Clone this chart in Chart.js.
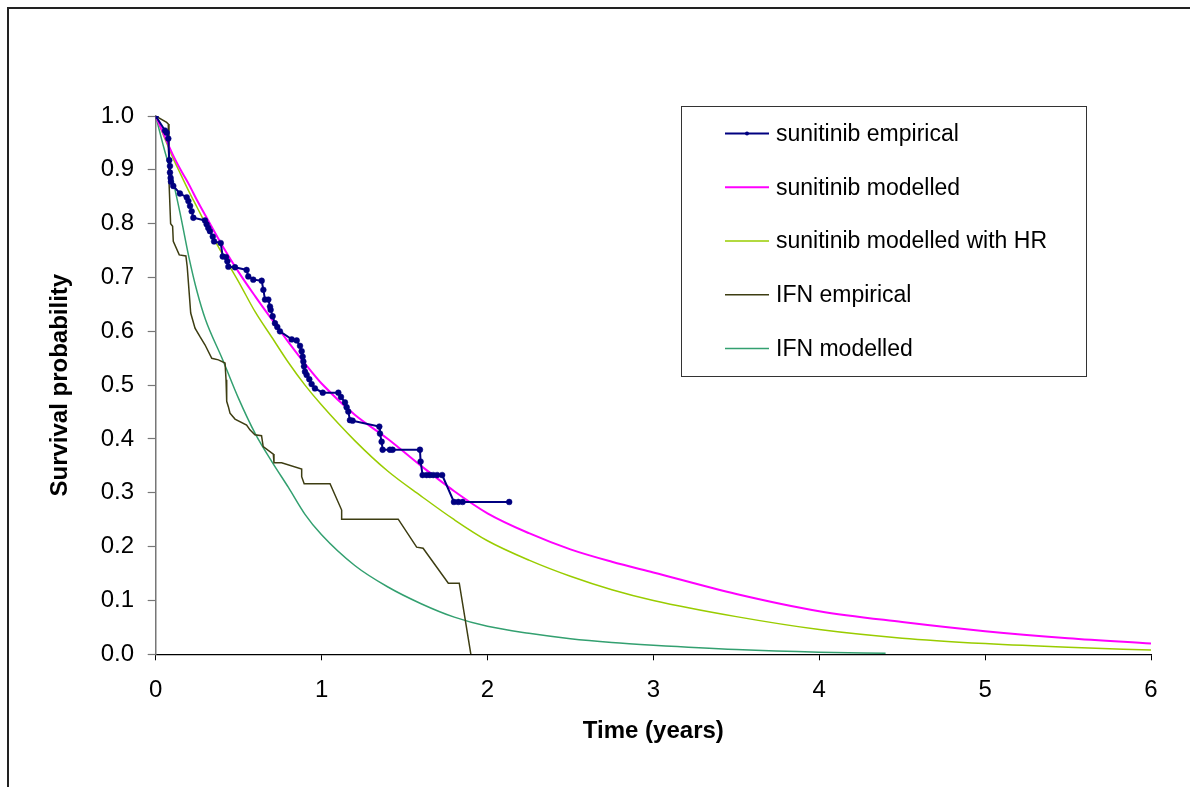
<!DOCTYPE html>
<html><head><meta charset="utf-8">
<script src="https://cdn.jsdelivr.net/npm/chart.js@4.4.1/dist/chart.umd.min.js"></script>
<style>
html,body{margin:0;padding:0;background:#fff;overflow:hidden;width:1190px;height:787px;}
#frame{position:absolute;left:7px;top:7px;width:1300px;height:900px;border:2px solid #222;box-sizing:border-box;}
#c{position:absolute;left:0;top:0;}
</style></head><body>
<div id="frame"></div>
<canvas id="c" width="1190" height="787"></canvas>
<script>
// ---- data ----
const seriesNames = ['sunitinib empirical','sunitinib modelled','sunitinib modelled with HR','IFN empirical','IFN modelled'];

const sunEmpT = [0,0.056,0.066,0.076,0.082,0.086,0.086,0.090,0.092,0.106,0.146,0.187,0.197,0.207,0.217,0.227,0.297,0.307,0.317,0.327,0.344,0.352,0.392,0.404,0.424,0.432,0.438,0.478,0.548,0.558,0.588,0.639,0.649,0.659,0.679,0.689,0.693,0.705,0.719,0.733,0.749,0.820,0.850,0.870,0.880,0.886,0.890,0.894,0.900,0.910,0.926,0.940,0.960,1.007,1.101,1.117,1.141,1.151,1.161,1.171,1.187,1.348,1.352,1.362,1.368,1.412,1.428,1.593,1.597,1.609,1.633,1.653,1.673,1.697,1.727,1.798,1.824,1.850,2.131];
const sunEmpS = [1.0,0.973,0.969,0.958,0.918,0.907,0.895,0.885,0.878,0.870,0.856,0.849,0.842,0.833,0.823,0.811,0.806,0.799,0.792,0.786,0.776,0.767,0.764,0.739,0.738,0.730,0.720,0.719,0.714,0.702,0.696,0.694,0.677,0.659,0.659,0.646,0.640,0.628,0.615,0.608,0.600,0.585,0.583,0.573,0.563,0.553,0.544,0.535,0.525,0.519,0.511,0.502,0.494,0.486,0.486,0.478,0.468,0.459,0.451,0.435,0.434,0.423,0.410,0.395,0.380,0.380,0.380,0.380,0.358,0.333,0.333,0.333,0.333,0.333,0.333,0.283,0.283,0.283,0.283];

const modT    = [0,0.05,0.1,0.15,0.2,0.25,0.3,0.4,0.5,0.6,0.7,0.8,0.9,1.0,1.2,1.4,1.6,1.8,2.0,2.25,2.5,2.75,3.0,3.5,4.0,4.5,5.0,5.5,6.0];
const sunModS = [1.0,0.965,0.93,0.90,0.873,0.843,0.815,0.76,0.71,0.665,0.622,0.58,0.54,0.503,0.445,0.40,0.35,0.303,0.262,0.225,0.195,0.172,0.152,0.112,0.08,0.06,0.043,0.03,0.02];
const sunHrS  = [1.0,0.962,0.925,0.892,0.86,0.83,0.80,0.745,0.692,0.636,0.589,0.542,0.50,0.463,0.397,0.340,0.294,0.25,0.211,0.175,0.145,0.12,0.10,0.07,0.046,0.03,0.02,0.013,0.008];

const ifnEmpT = [0,0.066,0.076,0.080,0.090,0.102,0.106,0.142,0.182,0.190,0.202,0.211,0.223,0.237,0.267,0.297,0.338,0.378,0.418,0.424,0.428,0.438,0.448,0.478,0.548,0.568,0.598,0.638,0.648,0.709,0.713,0.759,0.880,0.880,0.895,1.051,1.121,1.121,1.462,1.573,1.612,1.764,1.830,1.900];
const ifnEmpS = [1.0,0.988,0.985,0.88,0.80,0.795,0.767,0.742,0.740,0.72,0.671,0.634,0.621,0.606,0.590,0.575,0.550,0.547,0.541,0.510,0.470,0.460,0.448,0.437,0.426,0.417,0.408,0.406,0.386,0.372,0.356,0.356,0.344,0.330,0.317,0.317,0.268,0.251,0.251,0.199,0.197,0.132,0.132,0.0];

const ifnModT = [0,0.05,0.1,0.15,0.2,0.25,0.3,0.4,0.5,0.6,0.7,0.8,0.9,1.0,1.2,1.4,1.6,1.8,2.0,2.25,2.5,2.75,3.0,3.5,4.0,4.4];
const ifnModS = [1.0,0.94,0.885,0.815,0.738,0.673,0.622,0.55,0.475,0.41,0.358,0.31,0.26,0.222,0.165,0.125,0.094,0.069,0.052,0.039,0.029,0.022,0.017,0.009,0.004,0.002];

const xTickValues = [0,1,2,3,4,5,6];
const yTickDecimals = 1;

// ---- build ----
const pts = (xs, ys) => xs.map((x, i) => ({x: x, y: ys[i]}));
const FF = '"Liberation Sans", Arial, sans-serif';

const legendPlugin = {
  id: 'boxLegend',
  afterDraw(chart) {
    const ctx = chart.ctx;
    ctx.save();
    ctx.strokeStyle = '#333'; ctx.lineWidth = 1;
    ctx.strokeRect(681.5, 106.5, 405, 270);
    chart.data.datasets.forEach((ds, i) => {
      const y = 133.5 + i * 53.75;
      ctx.strokeStyle = ds.borderColor; ctx.lineWidth = ds.borderWidth;
      ctx.beginPath(); ctx.moveTo(725, y); ctx.lineTo(769, y); ctx.stroke();
      if (ds.pointRadius > 0) {
        ctx.fillStyle = ds.pointBackgroundColor;
        ctx.beginPath(); ctx.arc(747, y, 2, 0, Math.PI * 2); ctx.fill();
      }
      ctx.fillStyle = '#000';
      ctx.font = '23px ' + FF;
      ctx.textBaseline = 'middle';
      ctx.fillText(ds.label, 776, y + 1);
    });
    ctx.restore();
  }
};

new Chart(document.getElementById('c'), {
  type: 'line',
  data: {
    datasets: [
      {label: seriesNames[0], data: pts(sunEmpT, sunEmpS), borderColor: '#000080', borderWidth: 2,
       pointRadius: 2.9, pointBackgroundColor: '#000080', pointBorderColor: '#000080', pointBorderWidth: 0.5, tension: 0},
      {label: seriesNames[1], data: pts(modT, sunModS), borderColor: '#FF00FF', borderWidth: 2,
       pointRadius: 0, cubicInterpolationMode: 'monotone'},
      {label: seriesNames[2], data: pts(modT, sunHrS), borderColor: '#99CC00', borderWidth: 1.5,
       pointRadius: 0, cubicInterpolationMode: 'monotone'},
      {label: seriesNames[3], data: pts(ifnEmpT, ifnEmpS), borderColor: '#3d3d12', borderWidth: 1.5,
       pointRadius: 0, tension: 0},
      {label: seriesNames[4], data: pts(ifnModT, ifnModS), borderColor: '#33A070', borderWidth: 1.5,
       pointRadius: 0, cubicInterpolationMode: 'monotone'}
    ]
  },
  options: {
    responsive: false,
    devicePixelRatio: 1,
    animation: false,
    events: [],
    layout: {padding: {left: 0, right: 39, top: 116, bottom: 0}},
    plugins: {legend: {display: false}, tooltip: {enabled: false}},
    scales: {
      x: {
        type: 'linear', min: 0, max: 6,
        afterBuildTicks(s) { s.ticks = xTickValues.map(v => ({value: v})); },
        ticks: {font: {size: 24, family: FF}, color: '#000', padding: 16, maxRotation: 0, autoSkip: false,
                callback: v => String(v)},
        grid: {display: true, drawOnChartArea: false, drawTicks: true, tickLength: 6, color: '#000', tickColor: '#000', tickWidth: 1},
        border: {display: true, color: '#000', width: 1.2},
        title: {display: true, text: 'Time (years)', color: '#000',
                font: {size: 24, weight: 'bold', family: FF}, padding: {top: 0, bottom: 41.6}},
        afterFit(s) { s.height = 132.7; }
      },
      y: {
        type: 'linear', min: 0, max: 1,
        ticks: {stepSize: 0.1, font: {size: 24, family: FF}, color: '#000', padding: 13.7,
                callback: v => Number(v).toFixed(yTickDecimals)},
        grid: {display: true, drawOnChartArea: false, drawTicks: true, tickLength: 8, color: '#777', tickColor: '#777', tickWidth: 1.2},
        border: {display: true, color: '#777', width: 1.5},
        title: {display: true, text: 'Survival probability', color: '#000',
                font: {size: 24, weight: 'bold', family: FF}, padding: {top: 45.6, bottom: 0}},
        afterFit(s) { s.width = 155.7; }
      }
    }
  },
  plugins: [legendPlugin]
});
</script>
</body></html>
